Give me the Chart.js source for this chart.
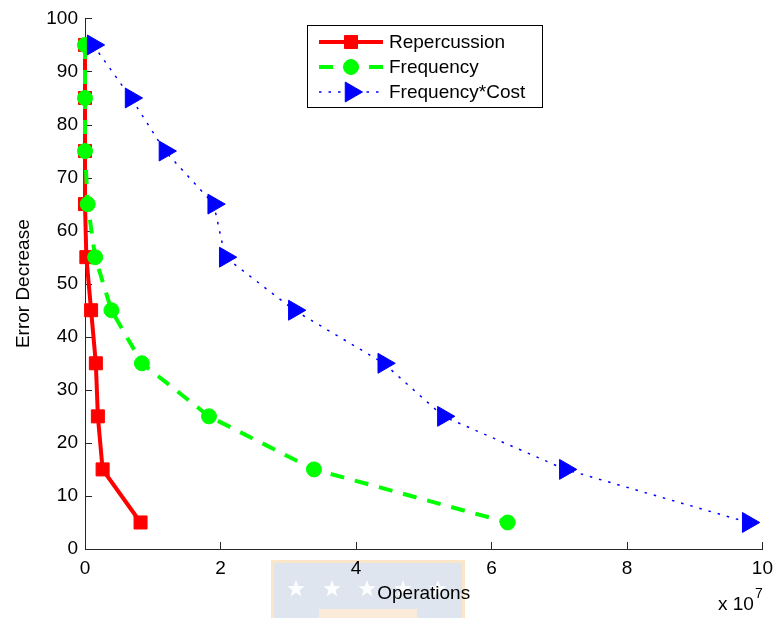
<!DOCTYPE html>
<html>
<head>
<meta charset="utf-8">
<script src="https://cdn.jsdelivr.net/npm/chart.js@4/dist/chart.umd.min.js"></script>
<style>
  html, body { margin: 0; padding: 0; background: #ffffff; }
  canvas { display: block; }
</style>
</head>
<body>
<canvas id="grafico" width="781" height="618"></canvas>
<script>
// =========================================
// DADOS (operações em unidades de 10^7)
// =========================================
const errorDecrease = [95, 85, 75, 65, 55, 45, 35, 25, 15, 5];
const opsRepercussion = [0.0, 0.0, 0.0, 0.0, 0.02, 0.09, 0.16, 0.19, 0.26, 0.82];
const opsFrequency = [0.0, 0.0, 0.0, 0.04, 0.15, 0.39, 0.84, 1.83, 3.38, 6.24];
const opsFreqCost = [0.12, 0.68, 1.18, 1.90, 2.07, 3.09, 4.41, 5.29, 7.09, 9.79];

const seriesNames = ["Repercussion", "Frequency", "Frequency*Cost"];
const xTicks = [0, 2, 4, 6, 8, 10];
const yTicks = [0, 10, 20, 30, 40, 50, 60, 70, 80, 90, 100];
const xTitle = "Operations";
const yTitle = "Error Decrease";
const xExponent = "7";

const fonte = "'Liberation Sans', Arial, Helvetica, sans-serif";
const corEixo = "#262626";

// Junta x e y em pontos para o gráfico de dispersão
function pontos(xs) {
    return xs.map((v, i) => ({ x: v, y: errorDecrease[i] }));
}

// =========================================
// MARCA D'ÁGUA NO RODAPÉ
// =========================================
function estrela(ctx, cx, cy, r) {
    ctx.beginPath();
    for (let i = 0; i < 10; i++) {
        const raio = i % 2 === 0 ? r : r * 0.42;
        const ang = -Math.PI / 2 + i * Math.PI / 5;
        const px = cx + Math.cos(ang) * raio;
        const py = cy + Math.sin(ang) * raio;
        if (i === 0) ctx.moveTo(px, py); else ctx.lineTo(px, py);
    }
    ctx.closePath();
    ctx.fill();
}

const marcaDagua = {
    id: "marcaDagua",
    beforeDraw(chart) {
        const ctx = chart.ctx;
        ctx.save();
        ctx.fillStyle = "#ffffff";
        ctx.fillRect(0, 0, chart.width, chart.height);

        ctx.fillStyle = "#dfe5ee";
        ctx.fillRect(272, 561, 192, 60);
        ctx.strokeStyle = "#fbe6c9";
        ctx.lineWidth = 3;
        ctx.strokeRect(272.5, 561.5, 191, 60);

        ctx.fillStyle = "rgba(255,255,255,0.9)";
        [296, 332, 367, 403, 438].forEach(cx => estrela(ctx, cx, 589, 9));

        ctx.fillStyle = "#fcebd8";
        ctx.fillRect(319, 609, 98, 12);
        ctx.restore();
    }
};

// =========================================
// MARCAS DOS EIXOS PARA DENTRO
// =========================================
const marcasInternas = {
    id: "marcasInternas",
    beforeDatasetsDraw(chart) {
        const { ctx, chartArea, scales } = chart;
        ctx.save();
        ctx.strokeStyle = corEixo;
        ctx.lineWidth = 1;
        ctx.beginPath();
        scales.x.ticks.forEach(t => {
            const px = Math.round(scales.x.getPixelForValue(t.value)) + 0.5;
            ctx.moveTo(px, chartArea.bottom);
            ctx.lineTo(px, chartArea.bottom - 7);
        });
        scales.y.ticks.forEach(t => {
            const py = Math.round(scales.y.getPixelForValue(t.value)) + 0.5;
            ctx.moveTo(chartArea.left, py);
            ctx.lineTo(chartArea.left + 7, py);
        });
        ctx.stroke();
        ctx.restore();
    }
};

// =========================================
// LEGENDA COM LINHA + MARCADOR E EXPOENTE DO EIXO X
// =========================================
const legendaLinhas = {
    id: "legendaLinhas",
    afterDatasetsDraw(chart) {
        const ctx = chart.ctx;
        const caixa = { x: 307, y: 25, w: 235, h: 82 };
        ctx.save();
        ctx.fillStyle = "#ffffff";
        ctx.fillRect(caixa.x, caixa.y, caixa.w, caixa.h);
        ctx.strokeStyle = "#000000";
        ctx.lineWidth = 1;
        ctx.strokeRect(caixa.x + 0.5, caixa.y + 0.5, caixa.w, caixa.h);

        chart.data.datasets.forEach((ds, i) => {
            const yLinha = 42 + i * 25;
            ctx.save();
            ctx.strokeStyle = ds.borderColor;
            ctx.lineWidth = ds.borderWidth;
            ctx.lineCap = "butt";
            ctx.setLineDash(ds.borderDash || []);
            ctx.beginPath();
            ctx.moveTo(319, yLinha);
            ctx.lineTo(383, yLinha);
            ctx.stroke();
            ctx.restore();

            ctx.fillStyle = ds.pointBackgroundColor;
            ctx.strokeStyle = ds.pointBorderColor;
            ctx.lineWidth = ds.pointBorderWidth;
            Chart.helpers.drawPoint(ctx, {
                pointStyle: ds.pointStyle,
                radius: ds.pointRadius,
                rotation: ds.pointRotation || 0,
                borderWidth: ds.pointBorderWidth
            }, 351, yLinha);

            ctx.fillStyle = "#000000";
            ctx.font = "19px " + fonte;
            ctx.textAlign = "left";
            ctx.textBaseline = "middle";
            ctx.fillText(ds.label, 389, yLinha + 1);
        });

        ctx.restore();
    },
    afterDraw(chart) {
        const ctx = chart.ctx;
        ctx.save();
        ctx.fillStyle = "#000000";
        ctx.textAlign = "left";
        ctx.textBaseline = "alphabetic";
        ctx.font = "19px " + fonte;
        ctx.fillText("x 10", 718, 610);
        ctx.font = "14px " + fonte;
        ctx.fillText(xExponent, 755, 598);
        ctx.restore();
    }
};

// =========================================
// CRIAÇÃO DO GRÁFICO
// =========================================
function criarGrafico() {
    const el = document.getElementById("grafico");
    if (!el || typeof Chart === "undefined") return;

    new Chart(el, {
        type: "scatter",
        data: {
            datasets: [
                {
                    label: seriesNames[0],
                    data: pontos(opsRepercussion),
                    showLine: true,
                    borderColor: "#ff0000",
                    borderWidth: 4,
                    pointStyle: "rect",
                    pointRadius: 9.2,
                    pointBackgroundColor: "#ff0000",
                    pointBorderColor: "#ff0000",
                    pointBorderWidth: 1,
                    clip: false,
                    order: 2
                },
                {
                    label: seriesNames[1],
                    data: pontos(opsFrequency),
                    showLine: true,
                    borderColor: "#00ff00",
                    borderWidth: 4,
                    borderDash: [14, 11],
                    borderCapStyle: "butt",
                    pointStyle: "circle",
                    pointRadius: 7.5,
                    pointBackgroundColor: "#00ff00",
                    pointBorderColor: "#00ff00",
                    pointBorderWidth: 1,
                    clip: false,
                    order: 1
                },
                {
                    label: seriesNames[2],
                    data: pontos(opsFreqCost),
                    showLine: true,
                    borderColor: "#0000ff",
                    borderWidth: 1.5,
                    borderDash: [2.5, 7],
                    borderCapStyle: "butt",
                    pointStyle: "triangle",
                    pointRotation: 90,
                    pointRadius: 11.5,
                    pointBackgroundColor: "#0000ff",
                    pointBorderColor: "#0000ff",
                    pointBorderWidth: 1,
                    clip: false,
                    order: 0
                }
            ]
        },
        options: {
            responsive: false,
            animation: false,
            devicePixelRatio: 1,
            layout: { padding: { top: 15, right: 16, bottom: 0, left: 0 } },
            plugins: {
                legend: { display: false },
                tooltip: { enabled: false }
            },
            scales: {
                x: {
                    type: "linear",
                    min: 0,
                    max: 10,
                    afterBuildTicks: s => { s.ticks = xTicks.map(v => ({ value: v })); },
                    afterFit: s => { s.height = 69; },
                    grid: { display: false, drawTicks: false },
                    border: { display: true, color: corEixo, width: 1 },
                    ticks: {
                        color: "#000000",
                        font: { family: fonte, size: 19 },
                        padding: 8,
                        maxRotation: 0
                    },
                    title: {
                        display: true,
                        text: xTitle,
                        color: "#000000",
                        font: { family: fonte, size: 19 },
                        padding: { top: 0, bottom: 13 }
                    }
                },
                y: {
                    type: "linear",
                    min: 0,
                    max: 100,
                    afterBuildTicks: s => { s.ticks = yTicks.map(v => ({ value: v })); },
                    afterFit: s => { s.width = 85; },
                    grid: { display: false, drawTicks: false },
                    border: { display: true, color: corEixo, width: 1 },
                    ticks: {
                        color: "#000000",
                        font: { family: fonte, size: 19 },
                        padding: 7
                    },
                    title: {
                        display: true,
                        text: yTitle,
                        color: "#000000",
                        font: { family: fonte, size: 19 },
                        padding: { top: 12, bottom: 0 }
                    }
                }
            }
        },
        plugins: [marcaDagua, marcasInternas, legendaLinhas]
    });
}

window.addEventListener("DOMContentLoaded", () => {
    criarGrafico();
});
</script>
</body>
</html>
